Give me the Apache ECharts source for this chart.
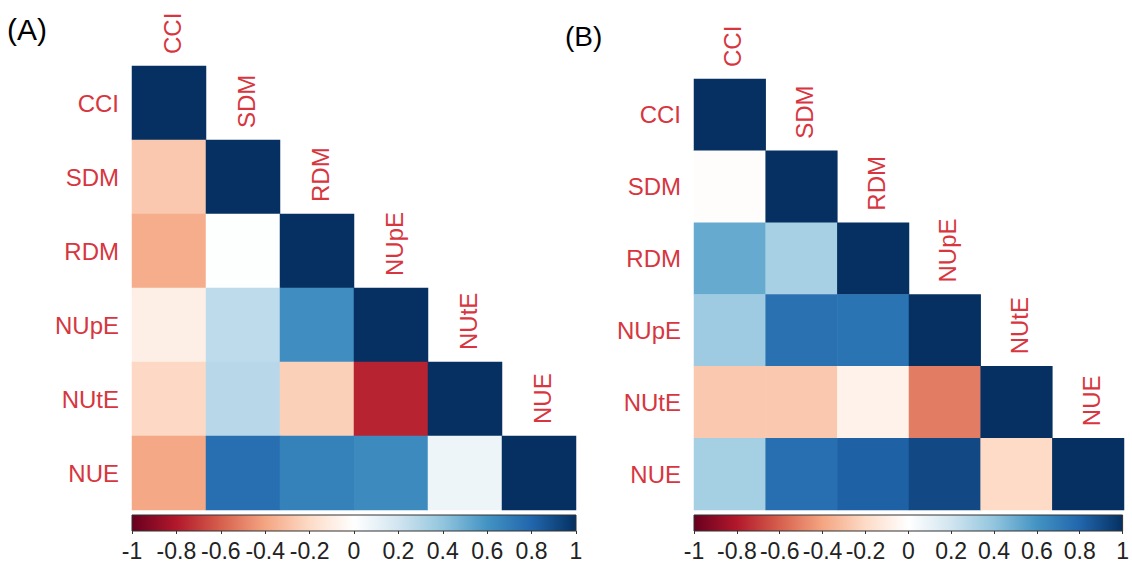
<!DOCTYPE html>
<html>
<head>
<meta charset="utf-8">
<script src="https://cdn.jsdelivr.net/npm/echarts@6/dist/echarts.min.js"></script>
<style>
  html, body { margin: 0; padding: 0; background: #fff; }
  #chart { width: 1132px; height: 562px; }
</style>
</head>
<body>
<div id="chart"></div>
<script>
// Variable names shared by both correlation matrices
const traits = ['CCI', 'SDM', 'RDM', 'NUpE', 'NUtE', 'NUE'];

// Lower-triangle correlation coefficients, row by row (diagonal included)
const corrA = [
  [1],
  [-0.27, 1],
  [-0.37, 0.01, 1],
  [-0.09, 0.26, 0.62, 1],
  [-0.21, 0.28, -0.24, -0.77, 1],
  [-0.39, 0.76, 0.68, 0.64, 0.08, 1]
];
const corrB = [
  [1],
  [-0.01, 1],
  [0.51, 0.33, 1],
  [0.36, 0.75, 0.74, 1],
  [-0.27, -0.27, -0.07, -0.52, 1],
  [0.34, 0.76, 0.82, 0.91, -0.2, 1]
];

// Colour bar tick labels
const barTicks = [-1, -0.8, -0.6, -0.4, -0.2, 0, 0.2, 0.4, 0.6, 0.8, 1];

// Diverging red-blue palette from -1 to 1
const rdbu = ['#67001F', '#B2182B', '#D6604D', '#F4A582', '#FDDBC7', '#FFFFFF',
              '#D1E5F0', '#92C5DE', '#4393C3', '#2166AC', '#053061'];

const labelRed = '#D7363F';
const labelFont = 'Arial, "Liberation Sans", sans-serif';

function toCells(m) {
  const out = [];
  m.forEach((row, i) => row.forEach((v, j) => out.push([j, i, v])));
  return out;
}

const panels = [
  { grid: { left: 132, top: 66, width: 444, height: 444 }, bar: { left: 132, top: 515, width: 444, height: 16 }, data: corrA },
  { grid: { left: 694, top: 79, width: 430, height: 431 }, bar: { left: 694, top: 515, width: 430, height: 16 }, data: corrB }
];

const grid = [], xAxis = [], yAxis = [], series = [];
panels.forEach((p, k) => {
  const gi = grid.length;
  grid.push(p.grid);
  xAxis.push({
    type: 'category', gridIndex: gi, data: traits,
    axisLine: { show: false }, axisTick: { show: false }, axisLabel: { show: false }, splitLine: { show: false }
  });
  yAxis.push({
    type: 'category', gridIndex: gi, data: traits, inverse: true,
    axisLine: { show: false }, axisTick: { show: false }, splitLine: { show: false },
    axisLabel: { color: labelRed, fontSize: 24, fontFamily: labelFont, margin: 13 }
  });
  // colour bar grid
  const bi = grid.length;
  grid.push(p.bar);
  xAxis.push({
    type: 'value', gridIndex: bi, min: -1, max: 1, interval: 0.2,
    axisLine: { show: false }, splitLine: { show: false },
    axisTick: { show: true, length: 3, lineStyle: { color: '#333' } },
    axisLabel: {
      color: '#222', fontSize: 23, fontFamily: labelFont, margin: 8,
      formatter: v => { const t = barTicks.find(b => Math.abs(b - v) < 1e-6); return t === undefined ? '' : String(t); }
    }
  });
  yAxis.push({ type: 'value', gridIndex: bi, min: 0, max: 1, show: false });
});

// Heatmap cells
panels.forEach((p, k) => {
  series.push({
    type: 'heatmap', xAxisIndex: 2 * k, yAxisIndex: 2 * k,
    data: toCells(p.data), itemStyle: { borderWidth: 0 }, emphasis: { disabled: true }, silent: true
  });
});

// Column labels drawn above each diagonal cell
panels.forEach((p, k) => {
  series.push({
    type: 'custom', xAxisIndex: 2 * k, yAxisIndex: 2 * k, silent: true,
    data: traits.map((t, j) => [j, j]),
    renderItem: (params, api) => {
      const j = api.value(0);
      const c = api.coord([j, j]);
      const s = api.size([1, 1]);
      return {
        type: 'text', x: c[0] + 3, y: c[1] - s[1] / 2 - 12, rotation: Math.PI / 2,
        style: { text: traits[j], fill: labelRed, fontSize: 24, fontFamily: labelFont, align: 'left', verticalAlign: 'middle' }
      };
    }
  });
});

// Colour bars
panels.forEach((p, k) => {
  series.push({
    type: 'custom', xAxisIndex: 2 * k + 1, yAxisIndex: 2 * k + 1, silent: true,
    data: [[-1, 1]],
    renderItem: (params, api) => {
      const a = api.coord([api.value(0), 0]);
      const b = api.coord([api.value(1), 1]);
      return {
        type: 'rect',
        shape: { x: a[0], y: b[1], width: b[0] - a[0], height: a[1] - b[1] },
        style: {
          fill: {
            type: 'linear', x: 0, y: 0, x2: 1, y2: 0,
            colorStops: rdbu.map((c, i) => ({ offset: i / (rdbu.length - 1), color: c }))
          },
          stroke: '#333', lineWidth: 1
        }
      };
    }
  });
});

const chart = echarts.init(document.getElementById('chart'), null, { renderer: 'svg' });
chart.setOption({
  animation: false,
  backgroundColor: '#fff',
  title: [
    { text: '(A)', left: 7, top: 14, padding: 0, textStyle: { fontSize: 30, fontWeight: 'normal', color: '#000', fontFamily: labelFont } },
    { text: '(B)', left: 565, top: 22, padding: 0, textStyle: { fontSize: 28, fontWeight: 'normal', color: '#000', fontFamily: labelFont } }
  ],
  grid, xAxis, yAxis,
  visualMap: {
    type: 'continuous', show: false, min: -1, max: 1, dimension: 2, seriesIndex: [0, 1],
    inRange: { color: rdbu }
  },
  series
});
</script>
</body>
</html>
